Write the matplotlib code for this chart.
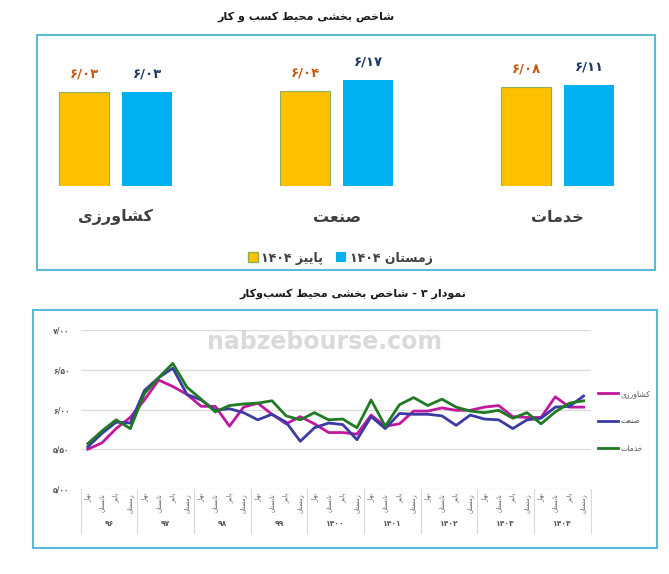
import re
import numpy as np
import matplotlib
matplotlib.use('Agg')
import matplotlib.pyplot as plt
import matplotlib.transforms as mtransforms
from matplotlib.patches import Rectangle, Patch

# ---- data ----
sectors = ['کشاورزی', 'صنعت', 'خدمات']
autumn_1404 = [6.03, 6.04, 6.08]
winter_1404 = [6.03, 6.17, 6.11]
autumn_labels = ['۶/۰۳', '۶/۰۴', '۶/۰۸']
winter_labels = ['۶/۰۳', '۶/۱۷', '۶/۱۱']

seasons = ['بهار', 'تابستان', 'پاییز', 'زمستان']
years = ['۹۶', '۹۷', '۹۸', '۹۹', '۱۴۰۰', '۱۴۰۱', '۱۴۰۲', '۱۴۰۳', '۱۴۰۴']
y_ticks = [5.0, 5.5, 6.0, 6.5, 7.0]
y_tick_labels = ['۵/۰۰', '۵/۵۰', '۶/۰۰', '۶/۵۰', '۷/۰۰']

agri = [5.50, 5.58, 5.76, 5.90, 6.12, 6.37, 6.29, 6.19, 6.04, 6.04, 5.79, 6.03,
        6.08, 5.94, 5.82, 5.91, 5.82, 5.71, 5.71, 5.69, 5.93, 5.79, 5.82, 5.98,
        5.98, 6.02, 5.99, 5.99, 6.03, 6.05, 5.91, 5.90, 5.90, 6.16, 6.03, 6.03]
industry = [5.53, 5.70, 5.84, 5.83, 6.24, 6.40, 6.52, 6.19, 6.12, 5.99, 6.01, 5.96,
            5.87, 5.94, 5.84, 5.60, 5.77, 5.83, 5.81, 5.62, 5.91, 5.76, 5.95, 5.94,
            5.94, 5.92, 5.80, 5.93, 5.88, 5.87, 5.76, 5.87, 5.89, 6.03, 6.04, 6.17]
services = [5.57, 5.73, 5.87, 5.76, 6.20, 6.40, 6.58, 6.28, 6.13, 5.97, 6.05, 6.07,
            6.08, 6.11, 5.92, 5.87, 5.96, 5.87, 5.88, 5.77, 6.12, 5.79, 6.06, 6.15,
            6.05, 6.13, 6.03, 5.98, 5.96, 5.99, 5.89, 5.96, 5.82, 5.97, 6.08, 6.11]

# ---- persian shaping (matplotlib has no complex text layout) ----
AR_FORMS = {
    '\u0627': (0xFE8D, 0xFE8E), '\u062F': (0xFEA9, 0xFEAA), '\u0631': (0xFEAD, 0xFEAE),
    '\u0632': (0xFEAF, 0xFEB0), '\u0648': (0xFEED, 0xFEEE), '\u0698': (0xFB8A, 0xFB8B),
    '\u0628': (0xFE8F, 0xFE90, 0xFE91, 0xFE92), '\u067E': (0xFB56, 0xFB57, 0xFB58, 0xFB59),
    '\u062A': (0xFE95, 0xFE96, 0xFE97, 0xFE98), '\u062D': (0xFEA1, 0xFEA2, 0xFEA3, 0xFEA4),
    '\u062E': (0xFEA5, 0xFEA6, 0xFEA7, 0xFEA8), '\u0633': (0xFEB1, 0xFEB2, 0xFEB3, 0xFEB4),
    '\u0634': (0xFEB5, 0xFEB6, 0xFEB7, 0xFEB8), '\u0635': (0xFEB9, 0xFEBA, 0xFEBB, 0xFEBC),
    '\u0637': (0xFEC1, 0xFEC2, 0xFEC3, 0xFEC4), '\u0639': (0xFEC9, 0xFECA, 0xFECB, 0xFECC),
    '\u0644': (0xFEDD, 0xFEDE, 0xFEDF, 0xFEE0), '\u0645': (0xFEE1, 0xFEE2, 0xFEE3, 0xFEE4),
    '\u0646': (0xFEE5, 0xFEE6, 0xFEE7, 0xFEE8), '\u0647': (0xFEE9, 0xFEEA, 0xFEEB, 0xFEEC),
    '\u06A9': (0xFB8E, 0xFB8F, 0xFB90, 0xFB91), '\u06AF': (0xFB92, 0xFB93, 0xFB94, 0xFB95),
    '\u06CC': (0xFBFC, 0xFBFD, 0xFBFE, 0xFBFF),
}
LTR = r'[0-9\u06F0-\u06F9/.A-Za-z]+'


def fa(s):
    out = []
    for i, ch in enumerate(s):
        f = AR_FORMS.get(ch)
        if f is None:
            out.append(ch)
            continue
        prev = s[i - 1] if i > 0 else ''
        nxt = s[i + 1] if i < len(s) - 1 else ''
        jp = prev in AR_FORMS and len(AR_FORMS[prev]) == 4
        jn = len(f) == 4 and nxt in AR_FORMS
        idx = 3 if (jp and jn) else 1 if jp else 2 if jn else 0
        out.append(chr(f[idx]))
    shaped = ''.join(out).replace('\u200c', '')
    runs = re.findall(LTR + '|' + r'[^0-9\u06F0-\u06F9/.A-Za-z]+', shaped)
    return ''.join(r if re.fullmatch(LTR, r) else r[::-1] for r in reversed(runs))


W, H = 669, 574
def fx(x): return x / W
def fy(y): return 1 - y / H

plt.rcParams['font.family'] = ['DejaVu Sans']
fig = plt.figure(figsize=(W / 100, H / 100), dpi=100)

frame_col = '#5BBBD5'
fig.patches.append(Rectangle((fx(37), fy(270)), (655 - 37) / W, (270 - 35) / H, fill=False,
                             ec=frame_col, lw=1.5, transform=fig.transFigure))
fig.patches.append(Rectangle((fx(33), fy(548)), (657 - 33) / W, (548 - 310) / H, fill=False,
                             ec=frame_col, lw=1.5, transform=fig.transFigure))

fig.text(fx(306), fy(17), fa('شاخص بخشی محیط کسب و کار'), ha='center', va='center',
         fontsize=8, fontweight='bold', color='#1a1a1a')

# ---- bar chart ----
ax1 = fig.add_axes([fx(37), fy(186), (655 - 37) / W, (186 - 35) / H])
ax1.axis('off')
x = np.arange(len(sectors))
bw = 0.226
off = 0.1425
b1 = ax1.bar(x - off, autumn_1404, bw, color='#FFC000', edgecolor='#8DB255', lw=0.8)
b2 = ax1.bar(x + off, winter_1404, bw, color='#00B0F0')
ax1.set_ylim(4.92, 4.92 + 151 / 85)
ax1.set_xlim(-0.357, 2.44)
for bars, labs, col in [(b1, autumn_labels, '#C55A11'), (b2, winter_labels, '#203864')]:
    for r, lab in zip(bars, labs):
        ax1.annotate(lab, (r.get_x() + r.get_width() / 2, r.get_height()), xytext=(0, 18),
                     textcoords='offset pixels', ha='center', va='center',
                     fontsize=9.5, fontweight='bold', color=col)
for i, s in enumerate(sectors):
    ax1.annotate(fa(s), (i, 4.92), xytext=(0, -31), textcoords='offset pixels',
                 ha='center', va='center', fontsize=11.5, fontweight='bold', color='#404040',
                 annotation_clip=False)
ax1.legend([Patch(fc='#FFC000', ec='#8DB255'), Patch(fc='#00B0F0')],
           [fa('پاییز ۱۴۰۴'), fa('زمستان ۱۴۰۴')], ncol=2, frameon=False,
           loc='center', bbox_to_anchor=(fx(340), fy(258)), bbox_transform=fig.transFigure,
           handlelength=0.8, handleheight=0.8, handletextpad=0.3, columnspacing=1.0,
           prop={'size': 9, 'weight': 'bold'}, labelcolor='#404040')

fig.text(fx(353), fy(294), fa('نمودار ۳ - شاخص بخشی محیط کسب\u200cوکار'), ha='center',
         va='center', fontsize=8, fontweight='bold', color='#1a1a1a')

# ---- line chart ----
ax2 = fig.add_axes([fx(80.7), fy(489), (590.7 - 80.7) / W, (489 - 330) / H])
xs = np.arange(len(agri)) + 0.5
ax2.plot(xs, agri, color='#C0189E', lw=2, label=fa('کشاورزی'))
ax2.plot(xs, industry, color='#3B3BA3', lw=2, label=fa('صنعت'))
ax2.plot(xs, services, color='#1F7A23', lw=2, label=fa('خدمات'))
ax2.set_xlim(0, 36)
ax2.set_ylim(5, 7)
for sp in ax2.spines.values():
    sp.set_visible(False)
ax2.set_yticks(y_ticks)
ax2.set_yticklabels(y_tick_labels, fontsize=5.5, fontweight='bold', color='#595959')
ax2.set_xticks([])
ax2.tick_params(axis='y', length=0, pad=8)
ax2.grid(axis='y', color='#D9D9D9', lw=0.9)
ax2.set_axisbelow(True)

tr = mtransforms.blended_transform_factory(ax2.transData, ax2.transAxes)
for j in range(len(years) + 1):
    ax2.plot([4 * j, 4 * j], [0, -44 / 159], color='#D9D9D9', lw=0.8, transform=tr, clip_on=False)
for j, yr in enumerate(years):
    for q, s in enumerate(seasons):
        ax2.text(4 * j + q + 0.5, -4 / 159, fa(s), transform=tr, rotation=90, ha='center',
                 va='top', fontsize=4.3, color='#595959')
    ax2.text(4 * j + 2, -35 / 159, yr, transform=tr, ha='center', va='center',
             fontsize=5.5, fontweight='bold', color='#595959')

ax2.legend(loc='center left', bbox_to_anchor=(fx(598), fy(421)), bbox_transform=fig.transFigure,
           frameon=False, borderaxespad=0, borderpad=0, handlelength=2.6, handletextpad=0.3,
           labelspacing=2.4, prop={'size': 5.5}, labelcolor='#595959')

fig.text(fx(325), fy(342), 'nabzebourse.com', ha='center', va='center', fontsize=17,
         fontweight='bold', color='#D4D4D4', alpha=0.85, zorder=10)

fig.savefig('out.png', dpi=100)
